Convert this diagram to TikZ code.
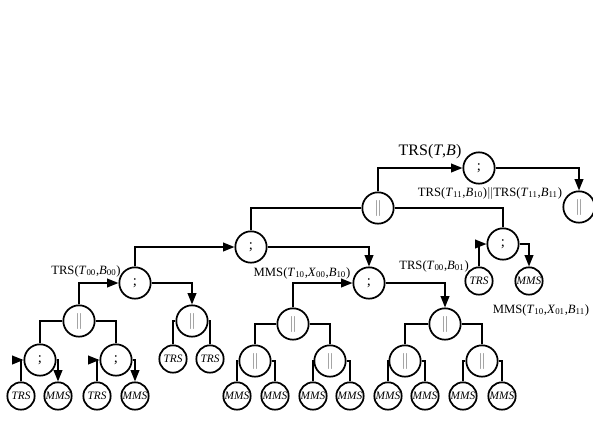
\documentclass[tikz,border=0pt]{standalone}
\usepackage{fontspec}
\setmainfont{Liberation Serif}
\usetikzlibrary{arrows.meta}
\newcommand{\sbs}[1]{\textsubscript{#1}}
\newcommand{\tv}[1]{\textit{#1}}
\begin{document}
\begin{tikzpicture}[x=0.75pt,y=-0.75pt,
  inode/.style={circle,draw,line width=1.3pt,minimum size=23.5pt,inner sep=0pt,fill=white},
  lnode/.style={circle,draw,line width=1.3pt,minimum size=20.5pt,inner sep=0pt,fill=white,font=\fontsize{8.5}{9}\selectfont\itshape},
  seq/.style={inode,font=\fontsize{11}{12}\selectfont,node contents={;}},
  par/.style={inode,node contents={\textcolor{black!55}{\fontsize{12}{14}\selectfont$\|$}}},
  conn/.style={line width=1.2pt},
  arr/.style={conn,-{Triangle[length=8.5pt,width=6.5pt]}},
  lbl/.style={inner sep=0pt,font=\fontsize{9.5}{11}\selectfont}
]
\clip (0,0) rectangle (593,422);
\useasboundingbox (0,0) rectangle (593,422);
% internal nodes
\node (A) at (479,168) [seq];
\node (B) at (378,208) [par];
\node (C) at (579,207) [par];
\node (D) at (251,247) [seq];
\node (E) at (369,283) [seq];
\node (F) at (503,244) [seq];
\node (G) at (135,283) [seq];
\node (H) at (79,321) [par];
\node (I) at (192,321) [par];
\node (J) at (40,360) [seq];
\node (K) at (116,360) [seq];
\node (L) at (293,324) [par];
\node (M) at (445,324) [par];
\node (N) at (255,361) [par];
\node (O) at (330,361) [par];
\node (P) at (405,361) [par];
\node (Q) at (482,361) [par];
% leaves
\node[lnode] (j1) at (21,396) {TRS};
\node[lnode] (j2) at (58,396) {MMS};
\node[lnode] (k1) at (97,396) {TRS};
\node[lnode] (k2) at (135,396) {MMS};
\node[lnode] (i1) at (173,359) {TRS};
\node[lnode] (i2) at (210,359) {TRS};
\node[lnode] (n1) at (237,396) {MMS};
\node[lnode] (n2) at (275,396) {MMS};
\node[lnode] (o1) at (313,396) {MMS};
\node[lnode] (o2) at (350,396) {MMS};
\node[lnode] (p1) at (388,396) {MMS};
\node[lnode] (p2) at (425,396) {MMS};
\node[lnode] (q1) at (463,396) {MMS};
\node[lnode] (q2) at (502,396) {MMS};
\node[lnode] (f1) at (479,281) {TRS};
\node[lnode] (f2) at (529,281) {MMS};
% sequential connectors
\draw[arr] (B.north) |- (A.west);
\draw[arr] (A.east) -| (C.north);
\draw[arr] (G.north) |- (D.west);
\draw[arr] (D.east) -| (E.north);
\draw[arr] (L.north) |- (E.west);
\draw[arr] (E.east) -| (M.north);
\draw[arr] (f1.north) |- (F.west);
\draw[arr] (F.east) -| (f2.north);
\draw[arr] (H.north) |- (G.west);
\draw[arr] (G.east) -| (I.north);
\draw[arr] (j1.north) |- (J.west);
\draw[arr] (J.east) -| (j2.north);
\draw[arr] (k1.north) |- (K.west);
\draw[arr] (K.east) -| (k2.north);
% parallel connectors
\draw[conn] (B.west) -| (D.north);
\draw[conn] (B.east) -| (F.north);
\draw[conn] (H.west) -| (J.north);
\draw[conn] (H.east) -| (K.north);
\draw[conn] (I.west) -| (i1.north);
\draw[conn] (I.east) -| (i2.north);
\draw[conn] (L.west) -| (N.north);
\draw[conn] (L.east) -| (O.north);
\draw[conn] (M.west) -| (P.north);
\draw[conn] (M.east) -| (Q.north);
\draw[conn] (N.west) -| (n1.north);
\draw[conn] (N.east) -| (n2.north);
\draw[conn] (O.west) -| (o1.north);
\draw[conn] (O.east) -| (o2.north);
\draw[conn] (P.west) -| (p1.north);
\draw[conn] (P.east) -| (p2.north);
\draw[conn] (Q.west) -| (q1.north);
\draw[conn] (Q.east) -| (q2.north);
% labels
\node[lbl,font=\fontsize{12}{14}\selectfont] (t0) at (430,152) {TRS(\tv{T},\tv{B})};
\node[lbl] (t1) at (490,193) {TRS(\tv{T}\sbs{11},\tv{B}\sbs{10})$\|$TRS(\tv{T}\sbs{11},\tv{B}\sbs{11})};
\node[lbl] (t2) at (86,271) {TRS(\tv{T}\sbs{00},\tv{B}\sbs{00})};
\node[lbl] (t3) at (302,273) {MMS(\tv{T}\sbs{10},\tv{X}\sbs{00},\tv{B}\sbs{10})};
\node[lbl] (t4) at (434,266) {TRS(\tv{T}\sbs{00},\tv{B}\sbs{01})};
\node[lbl] (t5) at (541,310) {MMS(\tv{T}\sbs{10},\tv{X}\sbs{01},\tv{B}\sbs{11})};
\end{tikzpicture}
\end{document}
